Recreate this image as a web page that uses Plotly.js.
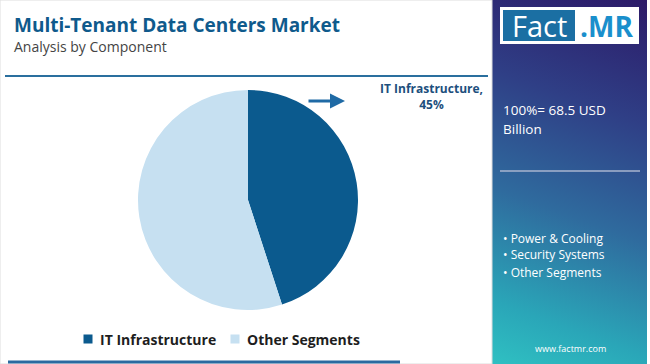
<!DOCTYPE html>
<html>
<head>
<meta charset="utf-8">
<script src="https://cdn.plot.ly/plotly-3.0.1.min.js"></script>
<style>
html,body{margin:0;padding:0;background:#fff;}
#wrap{position:relative;width:650px;height:364px;overflow:hidden;}
#panel{position:absolute;left:492px;top:0;width:155px;height:364px;
background:linear-gradient(200deg,#2c1a68 0%,#2f3f86 30%,#2f6b9e 58%,#2aa6b8 85%,#2fc0c2 100%);}
#chart{position:absolute;left:0;top:0;width:650px;height:364px;}
</style>
</head>
<body>
<div id="wrap"><div id="panel"></div><div id="chart"></div></div>
<script>
var categories = ["IT Infrastructure", "Other Segments"];
var shares = [45, 55];
var sliceColors = ["#0b5a8e", "#c6e0f1"];
var panelItems = ["Power & Cooling", "Security Systems", "Other Segments"];
var totalLines = ["100%= 68.5 USD", "Billion"];
var titleText = "Multi-Tenant Data Centers Market";
var subtitleText = "Analysis by Component";

var W = 650, H = 364;
function px(x){return x / W;}
function py(y){return 1 - y / H;}

var fontMain = "Open Sans, Noto Sans, sans-serif";

var trace = {
  type: "pie",
  labels: categories,
  values: shares,
  marker: {colors: sliceColors, line: {width: 0}},
  sort: false,
  direction: "clockwise",
  rotation: 0,
  textinfo: "none",
  hoverinfo: "label+percent",
  domain: {x: [px(137), px(359)], y: [py(310), py(90)]},
  showlegend: false
};

var annotations = [
  {xref:"paper", yref:"paper", x:px(12), y:py(25), xanchor:"left", yanchor:"middle",
   text:"<b>"+titleText+"</b>", showarrow:false,
   font:{family:fontMain, size:19, color:"#0f5a8c", weight:800}},
  {xref:"paper", yref:"paper", x:px(12), y:py(46), xanchor:"left", yanchor:"middle",
   text:subtitleText, showarrow:false,
   font:{family:fontMain, size:14, color:"#444444"}},
  {xref:"paper", yref:"paper", x:px(431), y:py(97), xanchor:"center", yanchor:"middle",
   text:"<b>"+categories[0]+",<br>"+shares[0]+"%</b>", showarrow:false, align:"center",
   font:{family:fontMain, size:12, color:"#1d4f7d"}},
  {xref:"paper", yref:"paper", x:px(345), y:py(101), axref:"pixel", ayref:"pixel",
   ax:-38, ay:0, text:"", showarrow:true, arrowhead:2, arrowsize:1, arrowwidth:3,
   arrowcolor:"#1f6aa5"},
  {xref:"paper", yref:"paper", x:px(570), y:py(348), xanchor:"center", yanchor:"middle",
   text:"www.factmr.com", showarrow:false,
   font:{family:fontMain, size:9, color:"#ffffff"}},
  {xref:"paper", yref:"paper", x:px(539), y:py(26), xanchor:"center", yanchor:"middle",
   text:"Fact", showarrow:false,
   font:{family:fontMain, size:29, color:"#ffffff"}},
  {xref:"paper", yref:"paper", x:px(606), y:py(26), xanchor:"center", yanchor:"middle",
   text:"<b>.MR</b>", showarrow:false,
   font:{family:fontMain, size:28, color:"#1a8fcc"}}
];

totalLines.forEach(function(t, i){
  annotations.push({xref:"paper", yref:"paper", x:px(501), y:py(110 + 19*i), xanchor:"left", yanchor:"middle",
    text:t, showarrow:false, font:{family:fontMain, size:13.5, color:"#ffffff"}});
});
panelItems.forEach(function(t, i){
  annotations.push({xref:"paper", yref:"paper", x:px(501), y:py(238 + 17*i), xanchor:"left", yanchor:"middle",
    text:"• "+t, showarrow:false, font:{family:fontMain, size:12, color:"#ffffff"}});
});

// legend (built from categories/colors)
var legendX = [83, 230];
categories.forEach(function(c, i){
  annotations.push({xref:"paper", yref:"paper", x:px(legendX[i]), y:py(339), xanchor:"left", yanchor:"middle",
    text:" ", showarrow:false, width:8, height:8, bgcolor:sliceColors[i], borderpad:0,
    font:{size:1}});
  annotations.push({xref:"paper", yref:"paper", x:px(legendX[i]+15), y:py(339), xanchor:"left", yanchor:"middle",
    text:"<b>"+c+"</b>", showarrow:false,
    font:{family:fontMain, size:14, color:"#1e1e1e"}});
});

var shapes = [
  {type:"rect", xref:"paper", yref:"paper", x0:0, x1:px(492), y0:0, y1:1,
   line:{color:"#dddddd", width:1}, fillcolor:"rgba(0,0,0,0)"},
  {type:"line", xref:"paper", yref:"paper", x0:px(5), x1:px(488), y0:py(76), y1:py(76),
   line:{color:"#2a6f9e", width:2}},
  {type:"line", xref:"paper", yref:"paper", x0:px(8), x1:px(400), y0:py(362), y1:py(362),
   line:{color:"#2a6aa0", width:3}},
  {type:"line", xref:"paper", yref:"paper", x0:px(500), x1:px(640), y0:py(171), y1:py(171),
   line:{color:"#a9b4cf", width:1.5}},
  {type:"rect", xref:"paper", yref:"paper", x0:px(500), x1:px(639), y0:py(44), y1:py(7),
   line:{width:0}, fillcolor:"#ffffff"},
  {type:"rect", xref:"paper", yref:"paper", x0:px(503), x1:px(575), y0:py(41), y1:py(10),
   line:{width:0}, fillcolor:"#1b6fa3"}
];

var layout = {
  width: W, height: H,
  margin: {l:0, r:0, t:0, b:0},
  paper_bgcolor: "rgba(0,0,0,0)",
  plot_bgcolor: "rgba(0,0,0,0)",
  showlegend: false,
  annotations: annotations,
  shapes: shapes
};

Plotly.newPlot("chart", [trace], layout, {displayModeBar:false, staticPlot:true});
</script>
</body>
</html>
